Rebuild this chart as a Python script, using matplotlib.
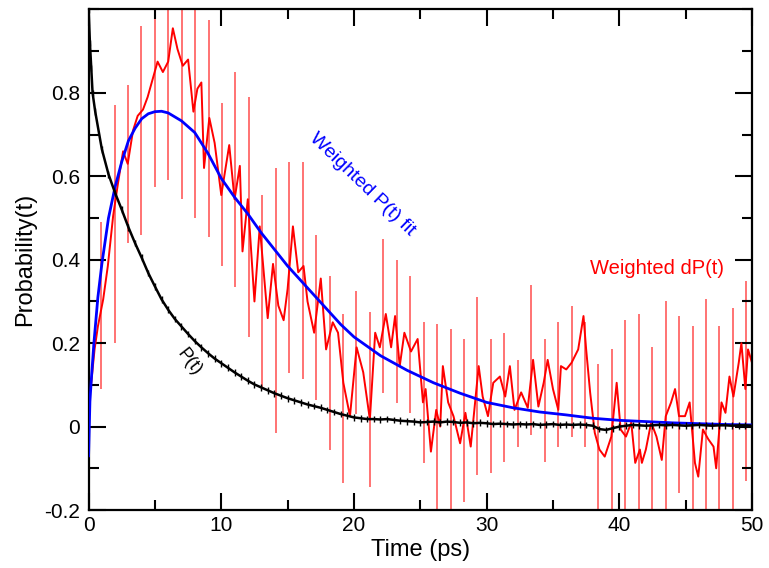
import matplotlib
matplotlib.use("Agg")
import matplotlib.pyplot as plt
from matplotlib.ticker import MultipleLocator

plt.rcParams['font.family'] = ['Liberation Sans', 'DejaVu Sans']

# weighted dP(t) (time in ps)
dp_t = [0.0, 0.2, 0.45, 0.7, 1.1, 1.45, 1.85, 2.2, 2.6, 2.95, 3.35, 3.7, 4.1, 4.45, 4.85,
        5.2, 5.6, 6.0, 6.35, 6.7, 7.1, 7.5, 7.9, 8.2, 8.5, 8.7, 9.1, 9.5, 10.0, 10.6,
        11.0, 11.4, 11.6, 12.0, 12.5, 12.9, 13.5, 13.9, 14.3, 14.7, 15.0, 15.4, 15.8, 16.2,
        16.5, 17.0, 17.5, 17.9, 18.4, 18.8, 19.2, 19.7, 20.2, 20.7, 21.2, 21.6, 21.95, 22.4,
        22.8, 23.1, 23.45, 23.8, 24.3, 24.8, 25.2, 25.4, 25.8, 26.2, 26.5, 26.7, 27.1, 27.5,
        28.0, 28.4, 28.8, 29.4, 29.7, 30.1, 30.5, 31.0, 31.4, 31.75, 32.1, 32.6, 33.1, 33.5,
        33.9, 34.3, 34.6, 35.0, 35.4, 35.6, 36.0, 36.4, 36.9, 37.3, 37.5, 37.8, 38.15, 38.5,
        38.9, 39.4, 39.8, 40.1, 40.5, 40.9, 41.2, 41.55, 41.7, 42.0, 42.4, 42.8, 43.2, 43.5,
        43.9, 44.2, 44.5, 44.95, 45.3, 45.7, 45.95, 46.3, 46.7, 47.1, 47.3, 47.7, 48.0, 48.3,
        48.6, 49.0, 49.2, 49.5, 49.7, 50.0]
dp_val = [0.06, 0.105, 0.185, 0.24, 0.305, 0.385, 0.505, 0.58, 0.66, 0.63, 0.71, 0.745, 0.76, 0.79, 0.835,
          0.875, 0.85, 0.875, 0.955, 0.905, 0.865, 0.88, 0.755, 0.81, 0.825, 0.62, 0.74, 0.68, 0.555, 0.675,
          0.545, 0.625, 0.42, 0.545, 0.30, 0.48, 0.26, 0.39, 0.29, 0.255, 0.33, 0.48, 0.37, 0.385,
          0.30, 0.225, 0.355, 0.185, 0.25, 0.225, 0.105, 0.025, 0.19, 0.13, 0.017, 0.225, 0.19, 0.27,
          0.19, 0.265, 0.145, 0.225, 0.18, 0.21, 0.058, 0.09, -0.06, 0.04, 0.0, 0.145, 0.058, 0.025,
          -0.04, 0.033, -0.048, 0.145, 0.072, 0.025, 0.105, 0.12, 0.072, 0.145, 0.04, 0.082, 0.045, 0.16,
          0.048, 0.105, 0.16, 0.09, 0.04, 0.145, 0.137, 0.153, 0.185, 0.265, 0.185, 0.082, -0.015, -0.055,
          -0.072, -0.024, 0.105, -0.007, -0.024, 0.01, -0.087, -0.055, -0.087, -0.055, 0.01, -0.024, -0.08, 0.025,
          0.058, 0.09, 0.025, 0.025, 0.058, -0.087, -0.12, -0.007, -0.03, -0.048, -0.10, 0.058, 0.033, 0.12,
          0.072, 0.153, 0.20, 0.09, 0.185, 0.153]

# error bars on dP(t): position, lower end, upper end
err_t = [0.94, 1.96, 2.97, 3.98, 4.99, 6.01, 7.02, 8.03, 9.05, 10.06, 11.07, 12.09, 13.10, 14.11,
         15.13, 16.14, 17.15, 18.16, 19.18, 20.19, 21.20, 22.22, 23.23, 24.24, 25.26, 26.27, 27.28,
         28.29, 29.31, 30.32, 31.33, 32.35, 33.36, 34.37, 35.39, 36.40, 37.41, 38.42, 39.44, 40.45,
         41.46, 42.48, 43.49, 44.50, 45.52, 46.53, 47.54, 48.55, 49.57]
err_lo = [0.09, 0.20, 0.44, 0.46, 0.575, 0.59, 0.545, 0.50, 0.455, 0.385, 0.335, 0.215, 0.09, -0.016,
          0.128, 0.115, 0.064, -0.056, -0.135, 0.03, -0.145, 0.08, 0.056, 0.032, -0.088, -0.23, -0.22,
          -0.18, -0.116, -0.112, -0.085, -0.05, -0.02, -0.085, -0.05, -0.024, -0.05, -0.22, -0.22, -0.24,
          -0.23, -0.22, -0.23, -0.16, -0.22, -0.24, -0.22, -0.23, -0.13]
err_hi = [0.49, 0.77, 0.82, 0.96, 1.05, 1.15, 1.2, 1.03, 0.975, 0.775, 0.85, 0.79, 0.555, 0.62,
          0.635, 0.635, 0.46, 0.36, 0.27, 0.325, 0.275, 0.45, 0.40, 0.36, 0.25, 0.245, 0.235,
          0.21, 0.31, 0.21, 0.225, 0.16, 0.34, 0.21, 0.25, 0.29, 0.25, 0.15, 0.185, 0.255,
          0.27, 0.19, 0.30, 0.265, 0.24, 0.305, 0.24, 0.285, 0.35]

# weighted P(t) fit
fit_t = [0, 0.1, 0.2, 0.4, 0.7, 1.0, 1.5, 2.0, 2.5, 3.0, 3.5, 4.0, 4.5, 5.0, 5.5, 6.0, 7, 8, 9, 10,
         11, 12, 13, 14, 15, 16, 17, 18, 19, 20, 22, 24, 26, 28, 30, 32, 34, 36, 38, 40, 42, 44,
         46, 48, 50]
fit_val = [-0.07, 0.06, 0.11, 0.2, 0.31, 0.39, 0.5, 0.575, 0.635, 0.685, 0.715, 0.738, 0.75, 0.755,
           0.756, 0.752, 0.733, 0.705, 0.655, 0.595, 0.55, 0.51, 0.465, 0.425, 0.385, 0.35, 0.315,
           0.28, 0.245, 0.215, 0.17, 0.135, 0.105, 0.08, 0.058, 0.045, 0.035, 0.028, 0.02, 0.015,
           0.012, 0.009, 0.007, 0.005, 0.004]

# P(t): dense start, then every 0.5 ps
p_t = [0.0, 0.1, 0.2, 0.3] + [i * 0.5 for i in range(1, 101)]
p_val = [1.0, 0.92, 0.86, 0.8, 0.755, 0.665, 0.605, 0.56, 0.52, 0.478, 0.44, 0.405, 0.368, 0.336, 0.305,
         0.28, 0.258, 0.24, 0.222, 0.205, 0.19, 0.176, 0.163, 0.152, 0.141, 0.13, 0.12, 0.11, 0.101,
         0.094, 0.087, 0.08, 0.074, 0.068, 0.063, 0.058, 0.053, 0.049, 0.045, 0.04, 0.035, 0.03, 0.026,
         0.022, 0.02, 0.018, 0.018, 0.017, 0.018, 0.016, 0.014, 0.013, 0.012, 0.01, 0.011, 0.012, 0.01,
         0.012, 0.011, 0.009, 0.01, 0.008, 0.009, 0.008, 0.006, 0.007, 0.006, 0.005, 0.006, 0.005, 0.006,
         0.004, 0.005, 0.006, 0.004, 0.005, 0.004, 0.005, 0.004, 0.002, -0.006, -0.008, -0.004, 0.0, 0.002,
         0.004, 0.003, 0.002, 0.003, 0.004, 0.003, 0.004, 0.003, 0.002, 0.003, 0.004, 0.003, 0.002, 0.003,
         0.003, 0.002, 0.003, 0.003, 0.002]
p_err = 0.008

fig = plt.figure(figsize=(7.69, 5.68), dpi=100)
ax = fig.add_axes([0.1152, 0.1021, 0.8627, 0.8812])

ax.vlines(err_t, err_lo, err_hi, color='#ff2020', lw=1.1, alpha=0.8, zorder=1)
ax.plot(dp_t, dp_val, color='red', lw=1.4, zorder=2)
ax.plot(fit_t, fit_val, color='blue', lw=2.0, zorder=3)
ax.errorbar(p_t, p_val, yerr=p_err, color='black', lw=1.8, elinewidth=1.0, capsize=0, zorder=4)

ax.text(20.6, 0.58, 'Weighted P(t) fit', color='blue', fontsize=14, rotation=-44,
        ha='center', va='center')
ax.text(42.85, 0.38, 'Weighted dP(t)', color='red', fontsize=14.5, ha='center', va='center')
ax.text(7.6, 0.155, 'P(t)', color='black', fontsize=13, rotation=-52, ha='center', va='center')

ax.set_xlim(0, 50)
ax.set_ylim(-0.2, 1.0)
ax.xaxis.set_major_locator(MultipleLocator(10))
ax.xaxis.set_minor_locator(MultipleLocator(5))
ax.yaxis.set_minor_locator(MultipleLocator(0.1))
ax.set_yticks([-0.2, 0, 0.2, 0.4, 0.6, 0.8])
ax.set_yticklabels(['-0.2', '0', '0.2', '0.4', '0.6', '0.8'])
ax.tick_params(which='both', direction='in', top=True, right=True, width=1.5, labelsize=15)
ax.tick_params(which='major', length=12)
ax.tick_params(which='minor', length=7)
ax.tick_params(axis='y', pad=6)
ax.tick_params(axis='x', pad=4)
for s in ax.spines.values():
    s.set_linewidth(1.6)

ax.set_xlabel('Time (ps)', fontsize=17, labelpad=3)
ax.set_ylabel('Probability(t)', fontsize=17, labelpad=6)

fig.savefig('out.png', dpi=100)
